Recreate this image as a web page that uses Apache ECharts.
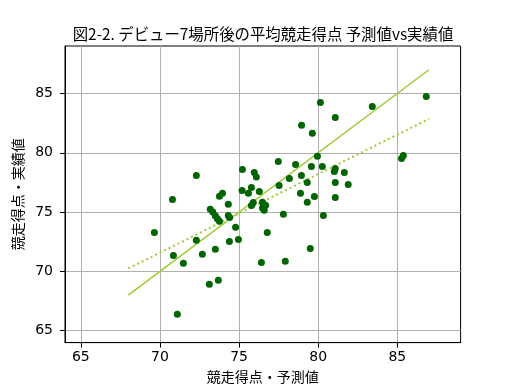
<!DOCTYPE html>
<html>
<head>
<meta charset="utf-8">
<script src="https://cdn.jsdelivr.net/npm/echarts@6/dist/echarts.min.js"></script>
<style>html,body{margin:0;padding:0;background:#fff}#c{width:512px;height:384px}</style>
</head>
<body>
<div id="c"></div>
<script>
// Predicted (x) and actual (y) average race scores after 7 tournaments
var predicted = [86.83, 83.42, 80.14, 81.08, 78.95, 79.63, 79.95, 85.27, 85.38, 77.48,
  78.57, 79.57, 80.26, 81.08, 81.02, 81.65, 75.21, 75.96, 76.09, 78.94,
  78.18, 79.31, 81.08, 81.90, 77.53, 75.78, 75.19, 75.59, 76.28, 78.88,
  79.76, 81.08, 75.90, 75.78, 76.48, 76.68, 76.48, 76.59, 79.31, 77.80,
  80.33, 76.78, 79.50, 76.41, 77.92, 72.30, 70.79, 73.76, 73.95, 74.32,
  73.18, 73.34, 73.50, 73.63, 73.76, 74.32, 74.40, 74.78, 69.65, 74.39,
  74.96, 72.30, 70.85, 72.68, 73.50, 71.48, 73.12, 73.69, 71.10];
var actual = [84.75, 83.90, 84.24, 82.98, 82.31, 81.64, 79.70, 79.52, 79.76, 79.27,
  79.02, 78.85, 78.85, 78.68, 78.43, 78.34, 78.60, 78.34, 77.95, 78.09,
  77.84, 77.50, 77.50, 77.33, 77.25, 77.08, 76.83, 76.58, 76.74, 76.58,
  76.32, 76.24, 75.80, 75.56, 75.82, 75.58, 75.34, 75.15, 75.82, 74.81,
  74.72, 73.29, 71.94, 70.76, 70.86, 78.09, 76.07, 76.33, 76.58, 75.66,
  75.23, 75.00, 74.69, 74.43, 74.22, 74.72, 74.54, 73.72, 73.29, 72.53,
  72.70, 72.62, 71.35, 71.44, 71.86, 70.69, 68.91, 69.25, 66.38];
// y = x reference line endpoints
var identityX = [68, 87];
var identityY = [68, 87];
// fitted trend line endpoints
var trendX = [68, 87];
var trendY = [70.25, 82.85];
// tick labels
var xTicks = [65, 70, 75, 80, 85];
var yTicks = [65, 70, 75, 80, 85];

var points = predicted.map(function (v, i) { return [v, actual[i]]; });
var identity = identityX.map(function (v, i) { return [v, identityY[i]]; });
var trend = trendX.map(function (v, i) { return [v, trendY[i]]; });

var chart = echarts.init(document.getElementById('c'), null, {renderer: 'canvas'});
var axisCommon = {
  type: 'value', min: 64, max: 89,
  axisLine: {show: true, onZero: false, lineStyle: {color: '#000', width: 1}},
  axisTick: {show: true, inside: false, length: 5, lineStyle: {color: '#000', width: 1}},
  splitLine: {show: true, lineStyle: {color: '#b0b0b0', width: 1}},
  nameLocation: 'middle',
  nameTextStyle: {fontFamily: 'Noto Sans CJK JP', fontSize: 14, color: '#000'}
};
chart.setOption({
  animation: false,
  backgroundColor: '#fff',
  title: {
    text: '図2-2. デビュー7場所後の平均競走得点 予測値vs実績値',
    left: 258, top: 21, textAlign: 'center',
    textStyle: {fontFamily: 'Noto Sans CJK JP', fontSize: 15.4, fontWeight: 'normal', color: '#000'}
  },
  grid: {left: 65, right: 51.4, top: 46, bottom: 41.4, containLabel: false, outerBoundsMode: 'none',
    show: true, borderColor: '#000', borderWidth: 1, backgroundColor: 'transparent'},
  xAxis: Object.assign({}, axisCommon, {
    name: '競走得点・予測値', nameGap: 25,
    axisTick: Object.assign({}, axisCommon.axisTick, {customValues: xTicks}),
    axisLabel: {customValues: xTicks, margin: 8, fontFamily: 'DejaVu Sans', fontSize: 14, color: '#000'}
  }),
  yAxis: Object.assign({}, axisCommon, {
    name: '競走得点・実績値', nameGap: 37,
    axisTick: Object.assign({}, axisCommon.axisTick, {customValues: yTicks}),
    axisLabel: {customValues: yTicks, margin: 12, fontFamily: 'DejaVu Sans', fontSize: 14, color: '#000'}
  }),
  series: [
    {type: 'line', data: identity, showSymbol: false, symbol: 'none', z: 2,
      lineStyle: {color: '#9acd32', width: 1.5}},
    {type: 'line', data: trend, showSymbol: false, symbol: 'none', z: 2,
      lineStyle: {color: '#9acd32', width: 2, type: [2, 3]}},
    {type: 'scatter', data: points, symbol: 'circle', symbolSize: 7, z: 3,
      itemStyle: {color: '#006400', opacity: 1}}
  ]
});
</script>
</body>
</html>
